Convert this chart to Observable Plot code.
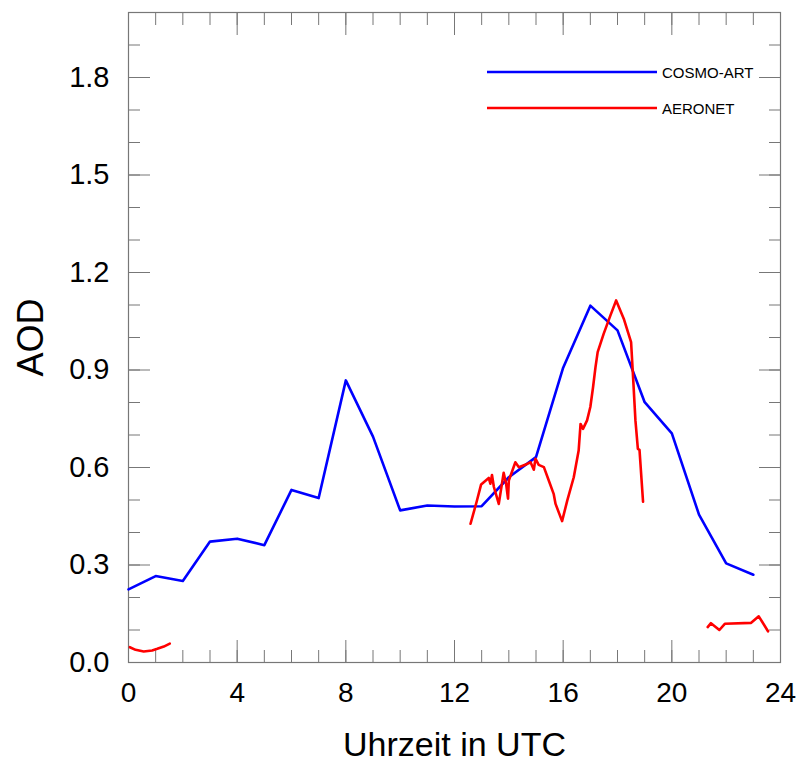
<!DOCTYPE html>
<html>
<head>
<meta charset="utf-8">
<script src="https://cdn.jsdelivr.net/npm/d3@7"></script>
<script src="https://cdn.jsdelivr.net/npm/@observablehq/plot@0.6"></script>
<style>
  body { margin: 0; background: #fff; }
  #wrap { position: relative; width: 796px; height: 762px; font-family: "Liberation Sans", Arial, Helvetica, sans-serif; }
  #legend { position: absolute; left: 0; top: 0; pointer-events: none; }
</style>
</head>
<body>
<div id="wrap"></div>
<script>
// ---- data ----
const cosmoHours = [0,1,2,3,4,5,6,7,8,9,10,11,12,13,14,15,16,17,18,19,20,21,22,23];
const cosmoAOD   = [0.225,0.266,0.251,0.372,0.381,0.361,0.531,0.506,0.868,0.695,0.468,0.483,0.480,0.481,0.570,0.632,0.907,1.098,1.022,0.801,0.705,0.455,0.305,0.270];

const aeroHours1 = [0.05,0.26,0.56,0.87,1.06,1.30,1.52];
const aeroAOD1   = [0.047,0.039,0.034,0.037,0.042,0.049,0.058];

const aeroHours2 = [12.59,12.81,12.98,13.26,13.32,13.38,13.45,13.63,13.81,13.90,13.97,14.00,14.24,14.37,14.67,14.80,14.92,14.98,15.10,15.29,15.47,15.65,15.72,15.96,16.15,16.39,16.57,16.64,16.73,16.88,17.00,17.10,17.19,17.27,17.49,17.74,17.95,18.23,18.50,18.58,18.66,18.75,18.81,18.94];
const aeroAOD2   = [0.427,0.493,0.548,0.568,0.550,0.577,0.540,0.488,0.584,0.550,0.504,0.560,0.616,0.601,0.611,0.616,0.593,0.627,0.608,0.601,0.560,0.519,0.488,0.435,0.498,0.570,0.652,0.734,0.719,0.745,0.786,0.847,0.909,0.955,1.011,1.068,1.114,1.058,0.986,0.868,0.745,0.657,0.654,0.495];

const aeroHours3 = [21.32,21.44,21.75,21.95,22.92,23.20,23.54];
const aeroAOD3   = [0.109,0.121,0.100,0.119,0.122,0.142,0.096];

const xMajorTicks = [0,4,8,12,16,20,24];
const xMinorTicks = [0,1,2,3,4,5,6,7,8,9,10,11,12,13,14,15,16,17,18,19,20,21,22,23,24];
const yMajorTicks = [0,0.3,0.6,0.9,1.2,1.5,1.8];
const yMinorTicks = [0,0.1,0.2,0.3,0.4,0.5,0.6,0.7,0.8,0.9,1.0,1.1,1.2,1.3,1.4,1.5,1.6,1.7,1.8,1.9,2.0];

const seriesNames = ["COSMO-ART","AERONET"];
const seriesColors = ["#0000ff","#ff0000"];

// ---- tables ----
const cosmo = cosmoHours.map((h,i)=>({h, v: cosmoAOD[i]}));
const aero = [
  ...aeroHours1.map((h,i)=>({h, v: aeroAOD1[i], seg: 1})),
  ...aeroHours2.map((h,i)=>({h, v: aeroAOD2[i], seg: 2})),
  ...aeroHours3.map((h,i)=>({h, v: aeroAOD3[i], seg: 3}))
];

const tickColor = "#777";
const empty = () => "";

const chart = Plot.plot({
  width: 796,
  height: 762,
  marginLeft: 128,
  marginRight: 16,
  marginTop: 12,
  marginBottom: 100,
  style: { fontFamily: '"Liberation Sans", Arial, Helvetica, sans-serif', background: "#fff", color: "#000" },
  x: { domain: [0,24] },
  y: { domain: [0,2.0] },
  marks: [
    // minor ticks (inward), all four sides
    Plot.axisX(xMinorTicks, { anchor: "bottom", tickSize: -12, tickFormat: empty, label: null, stroke: tickColor }),
    Plot.axisX(xMinorTicks, { anchor: "top", tickSize: -12, tickFormat: empty, label: null, stroke: tickColor }),
    Plot.axisY(yMinorTicks, { anchor: "left", tickSize: -12, tickFormat: empty, label: null, stroke: tickColor }),
    Plot.axisY(yMinorTicks, { anchor: "right", tickSize: -12, tickFormat: empty, label: null, stroke: tickColor }),
    // major ticks (inward) with labels on bottom/left
    Plot.axisX(xMajorTicks, { anchor: "bottom", tickSize: -22, tickPadding: 42, fontSize: 28, label: null, stroke: tickColor, tickFormat: d => String(d) }),
    Plot.axisX(xMajorTicks, { anchor: "top", tickSize: -22, tickFormat: empty, label: null, stroke: tickColor }),
    Plot.axisY(yMajorTicks, { anchor: "left", tickSize: -22, tickPadding: 41, fontSize: 29, label: null, stroke: tickColor, tickFormat: d => d.toFixed(1) }),
    Plot.axisY(yMajorTicks, { anchor: "right", tickSize: -22, tickFormat: empty, label: null, stroke: tickColor }),
    Plot.frame({ stroke: tickColor, strokeWidth: 1.2 }),
    // data
    Plot.line(cosmo, { x: "h", y: "v", stroke: seriesColors[0], strokeWidth: 2.6 }),
    Plot.line(aero, { x: "h", y: "v", z: "seg", stroke: seriesColors[1], strokeWidth: 2.6 }),
    // axis titles
    Plot.text(["AOD"], { frameAnchor: "left", textAnchor: "middle", dx: -97, rotate: -90, fontSize: 36, fill: "#000" }),
    Plot.text(["Uhrzeit in UTC"], { frameAnchor: "bottom", textAnchor: "middle", dy: 93, lineAnchor: "bottom", fontSize: 34, fill: "#000" })
  ]
});

const wrap = document.getElementById("wrap");
wrap.appendChild(chart);

// legend overlay
const ns = "http://www.w3.org/2000/svg";
const lg = document.createElementNS(ns, "svg");
lg.setAttribute("id", "legend");
lg.setAttribute("width", 796);
lg.setAttribute("height", 762);
const legendY = [72, 108];
seriesNames.forEach((name, i) => {
  const ln = document.createElementNS(ns, "line");
  ln.setAttribute("x1", 487); ln.setAttribute("x2", 657);
  ln.setAttribute("y1", legendY[i]); ln.setAttribute("y2", legendY[i]);
  ln.setAttribute("stroke", seriesColors[i]); ln.setAttribute("stroke-width", 2.6);
  lg.appendChild(ln);
  const tx = document.createElementNS(ns, "text");
  tx.setAttribute("x", 662); tx.setAttribute("y", legendY[i]);
  tx.setAttribute("dominant-baseline", "central");
  tx.setAttribute("font-size", 15);
  tx.setAttribute("font-family", '"Liberation Sans", Arial, sans-serif');
  tx.textContent = name;
  lg.appendChild(tx);
});
wrap.appendChild(lg);
</script>
</body>
</html>
